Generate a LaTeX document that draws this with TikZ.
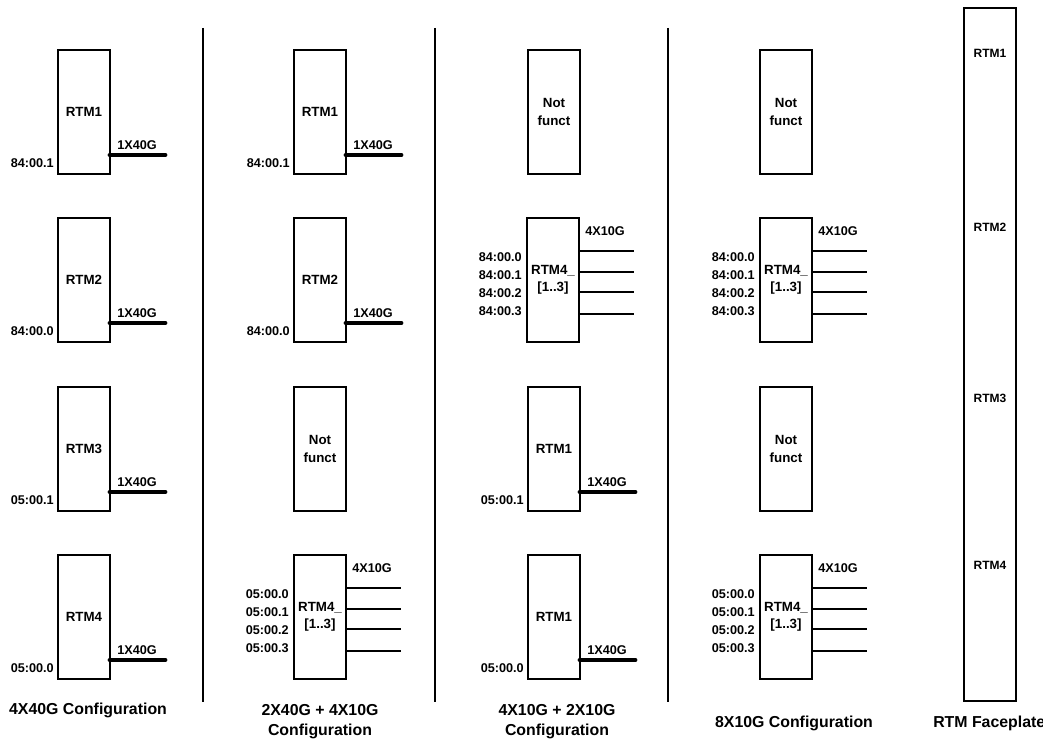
\documentclass[tikz,border=0pt]{standalone}
\usepackage{fontspec}
\setmainfont{Liberation Sans}
\usetikzlibrary{calc}
\newcommand\rtmforty[5]{%
  \node[rtm] (#1) at (#2,#3) {#4};
  \coordinate (#1e) at ($(#1.east)+(55,43)$);
  \draw[fat] (#1.east |- #1e) -- (#1e);
  \node[lbl, anchor=west] (#1t) at ($(#1.east |- #1e)+(7,-10)$) {1X40G};
  \node[lbl, anchor=east] (#1p) at ($(#1.west |- #1e)+(-4,8)$) {#5};
}
\newcommand\rtmten[4]{%
  \node[rtm] (#1) at (#2,#3) {RTM4\_\\{[1..3]}};
  \coordinate (#1a) at ($(#1.east)+(55,-29)$);
  \coordinate (#1b) at ($(#1.east)+(55,-8)$);
  \coordinate (#1c) at ($(#1.east)+(55,12)$);
  \coordinate (#1d) at ($(#1.east)+(55,34)$);
  \draw[wire] (#1.east |- #1a) -- (#1a);
  \draw[wire] (#1.east |- #1b) -- (#1b);
  \draw[wire] (#1.east |- #1c) -- (#1c);
  \draw[wire] (#1.east |- #1d) -- (#1d);
  \node[lbl, anchor=west] (#1t) at ($(#1.east)+(6,-49)$) {4X10G};
  \node[lbl, anchor=east, align=right] (#1p) at ($(#1.west)+(-5,4)$) {#4:00.0\\#4:00.1\\#4:00.2\\#4:00.3};
}
\begin{document}
\begin{tikzpicture}[x=0.75pt,y=-0.75pt,
  rtm/.style={draw, line width=1.6pt, minimum width=39pt, minimum height=93pt,
    inner sep=0pt, outer sep=0pt, align=center, font=\fontsize{10}{13}\selectfont\bfseries},
  lbl/.style={inner sep=0pt, font=\fontsize{9.5}{13.5}\selectfont\bfseries},
  fat/.style={line width=3.7pt, line cap=round},
  wire/.style={line width=1pt},
  sepline/.style={line width=1.5pt},
  captxt/.style={inner sep=0pt, align=center, font=\fontsize{11.9}{15}\selectfont\bfseries},
  fpl/.style={inner sep=0pt, font=\fontsize{9}{11}\selectfont\bfseries}]
\clip (0,0) rectangle (1043,742);
\fill[white] (0,0) rectangle (1043,742);

% column 1
\rtmforty{b11}{84}{112}{RTM1}{84:00.1}
\rtmforty{b12}{84}{280}{RTM2}{84:00.0}
\rtmforty{b13}{84}{449}{RTM3}{05:00.1}
\rtmforty{b14}{84}{617}{RTM4}{05:00.0}
\node[captxt] (c1) at (88,710) {4X40G Configuration};

% column 2
\rtmforty{b21}{320}{112}{RTM1}{84:00.1}
\rtmforty{b22}{320}{280}{RTM2}{84:00.0}
\node[rtm] (b23) at (320,449) {Not\\funct};
\rtmten{b24}{320}{617}{05}
\node[captxt] (c2) at (320,722) {2X40G + 4X10G\\Configuration};

% column 3
\node[rtm] (b31) at (554,112) {Not\\funct};
\rtmten{b32}{553}{280}{84}
\rtmforty{b33}{554}{449}{RTM1}{05:00.1}
\rtmforty{b34}{554}{617}{RTM1}{05:00.0}
\node[captxt] (c3) at (557,722) {4X10G + 2X10G\\Configuration};

% column 4
\node[rtm] (b41) at (786,112) {Not\\funct};
\rtmten{b42}{786}{280}{84}
\node[rtm] (b43) at (786,449) {Not\\funct};
\rtmten{b44}{786}{617}{05}
\node[captxt] (c4) at (794,723) {8X10G Configuration};

% faceplate
\node[draw, line width=1.6pt, minimum width=39pt, minimum height=519.5pt, inner sep=0pt, outer sep=0pt] (fp) at (990,354.5) {};
\node[fpl] (f1) at (990,53) {RTM1};
\node[fpl] (f2) at (990,227) {RTM2};
\node[fpl] (f3) at (990,398) {RTM3};
\node[fpl] (f4) at (990,565) {RTM4};
\node[captxt, anchor=west] (c5) at (933,723) {RTM Faceplate};

% separators
\coordinate (s1t) at (203,28); \coordinate (s1b) at (203,702);
\coordinate (s2t) at (435,28); \coordinate (s2b) at (435,702);
\coordinate (s3t) at (668,28); \coordinate (s3b) at (668,702);
\draw[sepline] (s1t) -- (s1b);
\draw[sepline] (s2t) -- (s2b);
\draw[sepline] (s3t) -- (s3b);
\end{tikzpicture}
\end{document}
